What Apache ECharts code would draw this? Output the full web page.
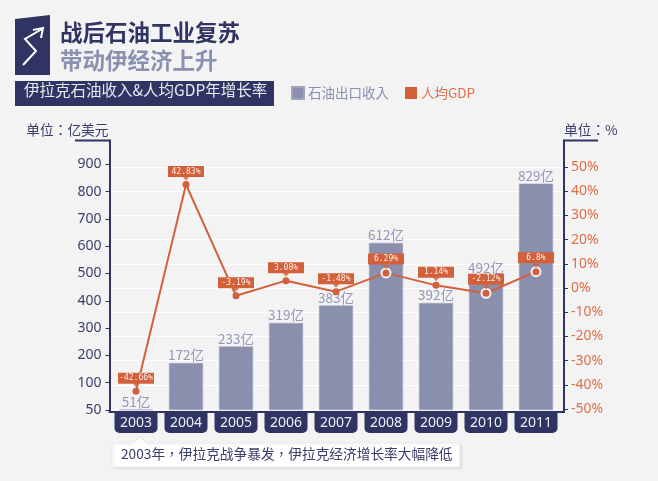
<!DOCTYPE html>
<html><head><meta charset="utf-8">
<style>html,body{margin:0;padding:0;background:#f3f3f3}#c{width:658px;height:481px}</style>
<script src="https://cdn.jsdelivr.net/npm/echarts@6/dist/echarts.min.js"></script>
</head><body><div id="c"></div>
<script>
const years = ['2003','2004','2005','2006','2007','2008','2009','2010','2011'];
const oilRevenue = [51,172,233,319,383,612,392,492,829];
const gdpGrowth = [-42.66,42.83,-3.19,3.08,-1.48,6.29,1.14,-2.12,6.8];
const gdpLabels = ['-42.66%','42.83%','-3.19%','3.08%','-1.48%','6.29%','1.14%','-2.12%','6.8%'];
const ringedPoints = ['2008','2010','2011'];
const leftTicks = [50,100,200,300,400,500,600,700,800,900];
const rightTicks = [-50,-40,-30,-20,-10,0,10,20,30,40,50];

const NAVY='#2f3463', BAR='#8a8fae', ORANGE='#d2603a', ORTXT='#df6f4a', LBL='#9397b8';
const FONT='"Noto Sans","Noto Sans CJK TC",sans-serif';
const CJK='"Noto Sans CJK TC","Noto Sans",sans-serif';
// The left axis is broken: its first step runs 50-100, the same height as each later 100.
const toAxis = v => v < 100 ? (v - 50) * 2 : v;
const fromAxis = p => p < 100 ? p / 2 + 50 : p;

const chart = echarts.init(document.getElementById('c'), null, {renderer:'canvas'});
const gridTop=140.5, gridBottom=412, gridLeft=109.5, gridRight=564;
const seriesX = years.map(Number);

chart.setOption({
  animation:false,
  backgroundColor:'#f3f3f3',
  legend:{
    left:291, top:86, padding:0, itemWidth:12, itemHeight:12, itemGap:16, icon:'rect',
    data:[{name:'石油出口收入',textStyle:{color:'#8a90b0'}},{name:'人均GDP',textStyle:{color:ORTXT}}],
    textStyle:{fontSize:13.5,fontFamily:CJK,padding:[0,0,0,-1]}
  },
  grid:{left:gridLeft,top:gridTop,width:gridRight-gridLeft,height:gridBottom-gridTop,containLabel:false},
  xAxis:{
    type:'value', min:2002.47, max:2011.56,
    splitLine:{show:false},
    axisLine:{show:true,onZero:false,lineStyle:{color:NAVY,width:2}},
    axisTick:{show:false,customValues:seriesX},
    axisLabel:{
      show:true, customValues:seriesX, margin:1,
      formatter:v=>String(v), color:'#eef0f6', fontSize:14, fontFamily:FONT,
      backgroundColor:NAVY, borderRadius:[0,0,5,5],
      width:43, height:20, lineHeight:20, align:'center', verticalAlign:'top',
      hideOverlap:false, showMinLabel:true, showMaxLabel:true
    }
  },
  yAxis:[{
    type:'value', min:-7.3, max:987,
    name:'单位：亿美元', nameLocation:'end', nameGap:4,
    nameTextStyle:{color:'#3a3e6a',fontSize:13.7,fontFamily:CJK,align:'right',verticalAlign:'bottom',padding:[0,1,0,0]},
    axisLine:{show:true,lineStyle:{color:NAVY,width:2}},
    axisTick:{show:true,length:4,customValues:leftTicks.map(toAxis),lineStyle:{color:NAVY,width:1}},
    axisLabel:{customValues:leftTicks.map(toAxis),formatter:v=>String(Math.round(fromAxis(v))),color:'#3a3e6a',fontSize:14,fontFamily:FONT,margin:8},
    splitLine:{show:false}
  },{
    type:'value', min:-51.2, max:61,
    name:'单位：%', nameLocation:'end', nameGap:4,
    nameTextStyle:{color:'#3a3e6a',fontSize:13.7,fontFamily:CJK,align:'left',verticalAlign:'bottom'},
    axisLine:{show:true,lineStyle:{color:NAVY,width:2}},
    axisTick:{show:true,length:4,customValues:rightTicks,lineStyle:{color:NAVY,width:1}},
    axisLabel:{customValues:rightTicks,formatter:v=>Math.round(v)+'%',color:ORTXT,fontSize:14,fontFamily:FONT,margin:7},
    splitLine:{show:true,lineStyle:{color:'#ffffff',width:1,type:'solid'}}
  }],
  series:[{
    name:'石油出口收入', type:'bar', xAxisIndex:0, yAxisIndex:0, barWidth:34, z:2,
    itemStyle:{color:BAR,borderColor:'#a0a4c0',borderWidth:0.5},
    label:{show:true,position:'top',distance:1,color:LBL,fontSize:13.5,fontFamily:CJK,
      formatter:p=>oilRevenue[p.dataIndex]+'亿'},
    data:oilRevenue.map((v,i)=>[seriesX[i],toAxis(v)])
  },{
    name:'pointer', type:'scatter', xAxisIndex:0, yAxisIndex:1, z:6, silent:true,
    symbol:'triangle', symbolRotate:180, symbolSize:[7,4], symbolOffset:[0,-6],
    itemStyle:{color:ORANGE},
    data:gdpGrowth.map((v,i)=>[seriesX[i],v])
  },{
    name:'人均GDP', type:'line', xAxisIndex:0, yAxisIndex:1, z:5,
    symbol:'circle', symbolSize:7, showAllSymbol:true,
    lineStyle:{color:ORANGE,width:2},
    itemStyle:{color:ORANGE},
    label:{show:true,position:'top',distance:4,
      formatter:p=>gdpLabels[p.dataIndex],color:'#fbeee8',fontSize:8,fontFamily:'"DejaVu Sans Mono",monospace',
      backgroundColor:ORANGE,width:36,height:11,lineHeight:11,align:'center',verticalAlign:'bottom'},
    data:gdpGrowth.map((v,i)=>{
      const ring=ringedPoints.includes(years[i]);
      return {value:[seriesX[i],v],symbolSize:ring?9:7,
        label:{distance:ring?3:4},
        itemStyle:ring?{color:ORANGE,borderColor:'#f4f4f6',borderWidth:2}:{color:ORANGE}};
    })
  }],
  graphic:[
    {type:'polygon',shape:{points:[[15,19],[50,15],[50,75],[15,75]]},style:{fill:NAVY}},
    {type:'polyline',shape:{points:[[23,65],[36,51],[25,39],[42,29]]},style:{stroke:'#fff',lineWidth:2,fill:null}},
    {type:'polyline',shape:{points:[[33,30],[43,28],[41,38]]},style:{stroke:'#fff',lineWidth:2,fill:null}},
    {type:'text',x:60,y:21,style:{text:'战后石油工业复苏',fill:NAVY,font:'bold 22.5px "Noto Sans CJK SC"'}},
    {type:'text',x:60,y:49,style:{text:'带动伊经济上升',fill:'#8a90b0',font:'bold 22.5px "Noto Sans CJK SC"'}},
    {type:'rect',shape:{x:15,y:81,width:259,height:25},style:{fill:NAVY}},
    {type:'text',x:24,y:82.5,style:{text:'伊拉克石油收入&人均GDP年增长率',fill:'#e8e9f2',font:'15.5px "Noto Sans CJK SC"'}},
    {type:'line',shape:{x1:75,y1:140.5,x2:110.5,y2:140.5},style:{stroke:NAVY,lineWidth:2}},
    {type:'line',shape:{x1:563,y1:140.5,x2:598,y2:140.5},style:{stroke:NAVY,lineWidth:2}},
    {type:'polygon',shape:{points:[[112,443],[133,443],[140,437],[147,443],[460,443],[460,467],[112,467]]},
      style:{fill:'#ffffff',stroke:'#e6e6e8',lineWidth:1,shadowColor:'rgba(0,0,0,0.06)',shadowBlur:2,shadowOffsetX:2,shadowOffsetY:2}},
    {type:'text',x:121,y:447,style:{text:'2003年，伊拉克战争暴发，伊拉克经济增长率大幅降低',fill:'#3a3e6a',font:'13.7px "Noto Sans CJK TC"'}}
  ]
});
</script></body></html>
